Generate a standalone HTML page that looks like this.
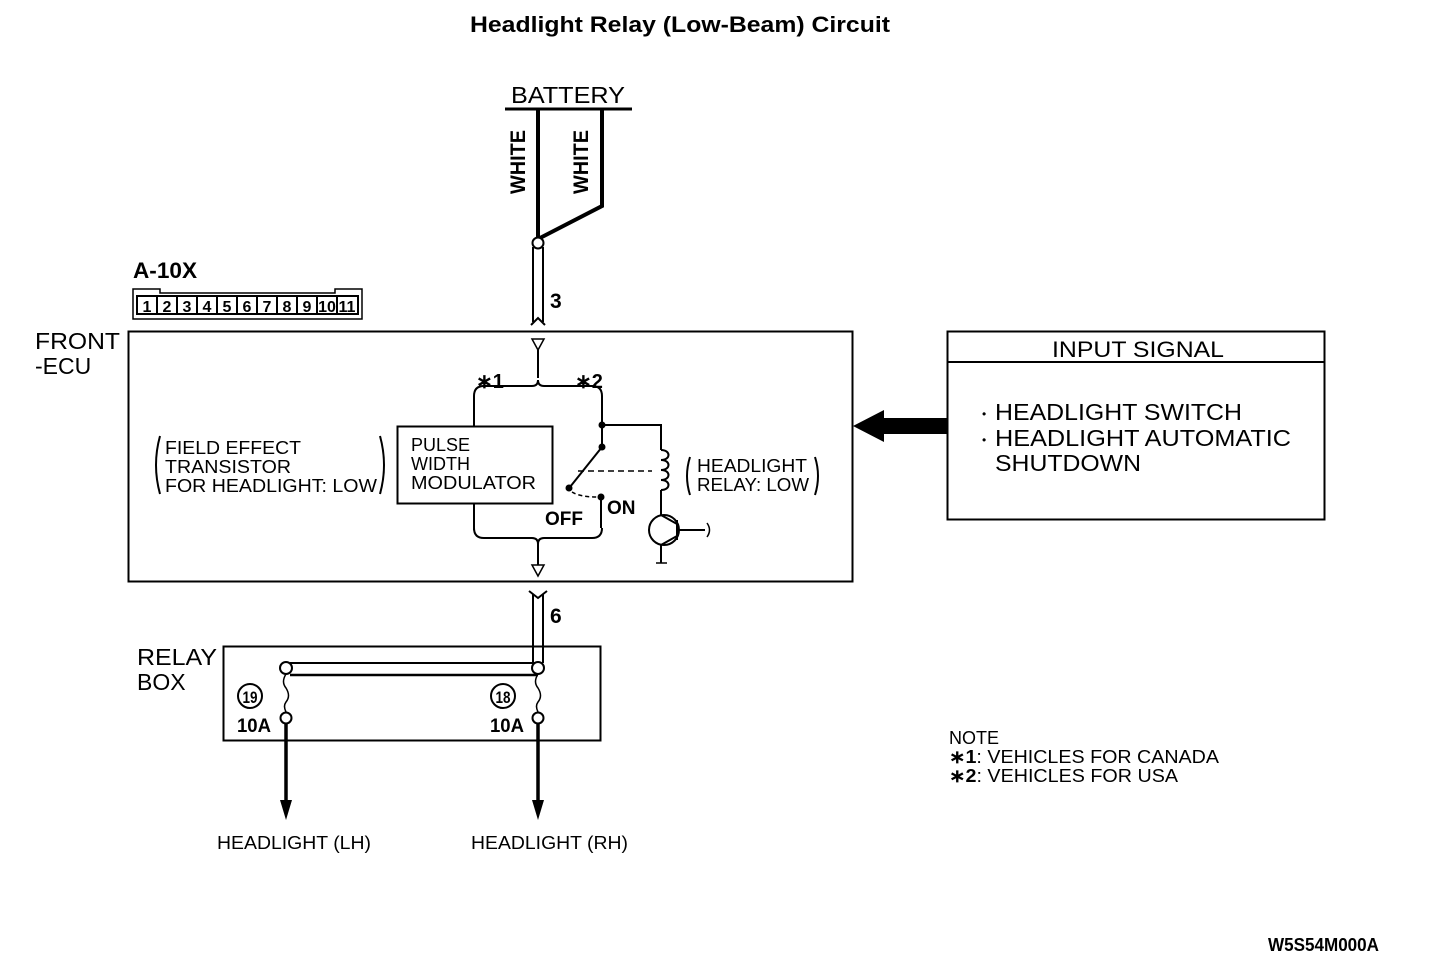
<!DOCTYPE html>
<html><head><meta charset="utf-8"><style>
html,body{margin:0;padding:0;background:#fff;}
svg{display:block;}
text{font-family:"Liberation Sans",sans-serif;fill:#000;}
.n{font-family:"Liberation Sans Narrow","Liberation Sans",sans-serif;font-weight:bold;}
</style></head><body>
<svg width="1440" height="980" viewBox="0 0 1440 980" xmlns="http://www.w3.org/2000/svg">
<text x="470" y="32" font-size="22" font-weight="bold" textLength="420" lengthAdjust="spacingAndGlyphs">Headlight Relay (Low-Beam) Circuit</text>

<!-- Battery -->
<text x="511" y="103" font-size="23" textLength="114" lengthAdjust="spacingAndGlyphs">BATTERY</text>
<line x1="505" y1="109" x2="632" y2="109" stroke="#000" stroke-width="3"/>
<polyline points="538,109 538,240" fill="none" stroke="#000" stroke-width="4"/>
<polyline points="602,109 602,206 540,238" fill="none" stroke="#000" stroke-width="4"/>
<text transform="translate(525,162) rotate(-90)" font-size="21" text-anchor="middle" class="n" textLength="64" lengthAdjust="spacingAndGlyphs">WHITE</text>
<text transform="translate(588,162) rotate(-90)" font-size="21" text-anchor="middle" class="n" textLength="64" lengthAdjust="spacingAndGlyphs">WHITE</text>
<circle cx="538" cy="243" r="5.5" fill="#fff" stroke="#000" stroke-width="2"/>
<line x1="533" y1="247" x2="533" y2="322" stroke="#000" stroke-width="2"/>
<line x1="543" y1="247" x2="543" y2="322" stroke="#000" stroke-width="2"/>
<polyline points="531,325 538,318 545,325" fill="none" stroke="#000" stroke-width="2"/>
<text x="550" y="308" font-size="21" class="n">3</text>

<!-- A-10X -->
<text x="133" y="278" font-size="22" class="n" textLength="64" lengthAdjust="spacingAndGlyphs">A-10X</text>
<path d="M133,289 H160 V293 H335 V289 H362 V319 H133 Z" fill="none" stroke="#000" stroke-width="1.5"/>
<rect x="137" y="296" width="221" height="18" fill="none" stroke="#000" stroke-width="2"/>
<g stroke="#000" stroke-width="2">
<line x1="157" y1="296" x2="157" y2="314"/><line x1="177" y1="296" x2="177" y2="314"/><line x1="197" y1="296" x2="197" y2="314"/><line x1="217" y1="296" x2="217" y2="314"/><line x1="237" y1="296" x2="237" y2="314"/><line x1="257" y1="296" x2="257" y2="314"/><line x1="277" y1="296" x2="277" y2="314"/><line x1="297" y1="296" x2="297" y2="314"/><line x1="317" y1="296" x2="317" y2="314"/><line x1="337" y1="296" x2="337" y2="314"/>
</g>
<g font-size="16" class="n" text-anchor="middle">
<text x="147" y="312">1</text><text x="167" y="312">2</text><text x="187" y="312">3</text><text x="207" y="312">4</text><text x="227" y="312">5</text><text x="247" y="312">6</text><text x="267" y="312">7</text><text x="287" y="312">8</text><text x="307" y="312">9</text><text x="327" y="312">10</text><text x="347" y="312">11</text>
</g>

<!-- ECU -->
<text x="35" y="349" font-size="23" textLength="85" lengthAdjust="spacingAndGlyphs">FRONT</text>
<text x="35" y="374" font-size="23">-ECU</text>
<rect x="128.5" y="331.5" width="724" height="250" fill="none" stroke="#000" stroke-width="2"/>
<polygon points="532,339 544,339 538,350" fill="none" stroke="#000" stroke-width="1.5"/>
<line x1="538" y1="350" x2="538" y2="378" stroke="#000" stroke-width="2"/>
<path d="M474,396 Q474,386 484,386 H532 Q538,386 538,380 Q538,386 544,386 H592 Q602,386 602,396" fill="none" stroke="#000" stroke-width="2"/>
<text x="476" y="388" font-size="20" font-weight="bold">∗1</text>
<text x="575" y="388" font-size="20" font-weight="bold">∗2</text>
<line x1="474" y1="396" x2="474" y2="426" stroke="#000" stroke-width="2"/>
<line x1="474" y1="503" x2="474" y2="530" stroke="#000" stroke-width="2"/>
<rect x="397.5" y="426.5" width="155" height="77" fill="none" stroke="#000" stroke-width="2"/>
<text x="411" y="451" font-size="18">PULSE</text>
<text x="411" y="470" font-size="18">WIDTH</text>
<text x="411" y="489" font-size="18" textLength="125" lengthAdjust="spacingAndGlyphs">MODULATOR</text>
<path d="M474,528 Q474,538 484,538 H532 Q538,538 538,544 Q538,538 544,538 H592 Q602,538 602,528" fill="none" stroke="#000" stroke-width="2"/>
<line x1="538" y1="544" x2="538" y2="565" stroke="#000" stroke-width="2"/>
<polygon points="532,565 544,565 538,576" fill="none" stroke="#000" stroke-width="1.5"/>
<!-- switch -->
<line x1="602" y1="396" x2="602" y2="447" stroke="#000" stroke-width="2"/>
<circle cx="602" cy="425" r="3.5"/><circle cx="602" cy="447" r="3.5"/>
<line x1="602" y1="447" x2="570" y2="487" stroke="#000" stroke-width="2"/>
<circle cx="569" cy="488" r="3.5"/>
<path d="M572,492 Q580,497 597,497" fill="none" stroke="#000" stroke-width="1.5" stroke-dasharray="4,3"/>
<circle cx="601" cy="497" r="3.5"/>
<line x1="601" y1="497" x2="601" y2="528" stroke="#000" stroke-width="2"/>
<text x="607" y="514" font-size="19" class="n">ON</text>
<text x="545" y="525" font-size="19" class="n">OFF</text>
<line x1="578" y1="471" x2="652" y2="471" stroke="#000" stroke-width="1.5" stroke-dasharray="6,4"/>
<polyline points="602,425 661,425 661,450" fill="none" stroke="#000" stroke-width="2"/>
<path d="M661,450 c10,0 10,10 0,10 c10,0 10,10 0,10 c10,0 10,10 0,10 c10,0 10,10 0,10" fill="none" stroke="#000" stroke-width="2"/>
<line x1="661" y1="490" x2="661" y2="515" stroke="#000" stroke-width="2"/>
<circle cx="664" cy="530" r="15" fill="none" stroke="#000" stroke-width="2"/>
<line x1="677" y1="520" x2="677" y2="540" stroke="#000" stroke-width="2"/>
<line x1="677" y1="530" x2="705" y2="530" stroke="#000" stroke-width="2"/>
<line x1="661" y1="515" x2="677" y2="524" stroke="#000" stroke-width="2"/>
<line x1="677" y1="536" x2="661" y2="545" stroke="#000" stroke-width="2"/>
<line x1="661" y1="545" x2="661" y2="563" stroke="#000" stroke-width="2"/>
<path d="M707,523 Q712,530 707,537" fill="none" stroke="#000" stroke-width="1.5"/>
<line x1="656" y1="563" x2="667" y2="563" stroke="#000" stroke-width="1.5"/>
<text x="697" y="472" font-size="18" textLength="110" lengthAdjust="spacingAndGlyphs">HEADLIGHT</text>
<text x="697" y="491" font-size="18" textLength="112" lengthAdjust="spacingAndGlyphs">RELAY: LOW</text>
<path d="M690,457 Q684,476 690,495" fill="none" stroke="#000" stroke-width="2"/>
<path d="M815,457 Q821,476 815,495" fill="none" stroke="#000" stroke-width="2"/>
<text x="165" y="454" font-size="18" textLength="136" lengthAdjust="spacingAndGlyphs">FIELD EFFECT</text>
<text x="165" y="473" font-size="18" textLength="126" lengthAdjust="spacingAndGlyphs">TRANSISTOR</text>
<text x="165" y="492" font-size="18" textLength="212" lengthAdjust="spacingAndGlyphs">FOR HEADLIGHT: LOW</text>
<path d="M160,436 Q152,465 160,494" fill="none" stroke="#000" stroke-width="2"/>
<path d="M380,436 Q388,465 380,494" fill="none" stroke="#000" stroke-width="2"/>

<!-- input signal -->
<rect x="947.5" y="331.5" width="377" height="188" fill="none" stroke="#000" stroke-width="2"/>
<line x1="947" y1="362" x2="1325" y2="362" stroke="#000" stroke-width="2"/>
<text x="1052" y="357" font-size="22" textLength="172" lengthAdjust="spacingAndGlyphs">INPUT SIGNAL</text>
<text x="982" y="418" font-size="12">•</text>
<text x="982" y="444" font-size="12">•</text>
<text x="995" y="420" font-size="23" textLength="247" lengthAdjust="spacingAndGlyphs">HEADLIGHT SWITCH</text>
<text x="995" y="446" font-size="23" textLength="296" lengthAdjust="spacingAndGlyphs">HEADLIGHT AUTOMATIC</text>
<text x="995" y="471" font-size="23" textLength="146" lengthAdjust="spacingAndGlyphs">SHUTDOWN</text>
<polygon points="853,426 884,410 884,418 947,418 947,434 884,434 884,442" fill="#000"/>

<!-- connector 6 -->
<line x1="533" y1="594" x2="533" y2="663" stroke="#000" stroke-width="2"/>
<line x1="543" y1="594" x2="543" y2="663" stroke="#000" stroke-width="2"/>
<polyline points="529,591 538,598 547,591" fill="none" stroke="#000" stroke-width="2"/>
<text x="550" y="623" font-size="21" class="n">6</text>

<!-- relay box -->
<text x="137" y="665" font-size="23" textLength="80" lengthAdjust="spacingAndGlyphs">RELAY</text>
<text x="137" y="690" font-size="23">BOX</text>
<rect x="223.5" y="646.5" width="377" height="94" fill="none" stroke="#000" stroke-width="2"/>
<line x1="290" y1="663" x2="538" y2="663" stroke="#000" stroke-width="2"/>
<line x1="290" y1="675" x2="538" y2="675" stroke="#000" stroke-width="2.5"/>
<circle cx="286" cy="668" r="6" fill="#fff" stroke="#000" stroke-width="2"/>
<circle cx="538" cy="668" r="6" fill="#fff" stroke="#000" stroke-width="2"/>
<path d="M286,674 q-5,8 0,14 q5,8 0,14 q-3,4 0,10" fill="none" stroke="#000" stroke-width="1.5"/>
<path d="M538,674 q-5,8 0,14 q5,8 0,14 q-3,4 0,10" fill="none" stroke="#000" stroke-width="1.5"/>
<circle cx="286" cy="718" r="5.5" fill="#fff" stroke="#000" stroke-width="2"/>
<circle cx="538" cy="718" r="5.5" fill="#fff" stroke="#000" stroke-width="2"/>
<circle cx="250" cy="696" r="12" fill="none" stroke="#000" stroke-width="2"/>
<circle cx="503" cy="696" r="12" fill="none" stroke="#000" stroke-width="2"/>
<text x="250" y="703" font-size="17" class="n" text-anchor="middle" textLength="15" lengthAdjust="spacingAndGlyphs">19</text>
<text x="503" y="703" font-size="17" class="n" text-anchor="middle" textLength="15" lengthAdjust="spacingAndGlyphs">18</text>
<text x="237" y="732" font-size="19" class="n" textLength="34" lengthAdjust="spacingAndGlyphs">10A</text>
<text x="490" y="732" font-size="19" class="n" textLength="34" lengthAdjust="spacingAndGlyphs">10A</text>
<line x1="286" y1="724" x2="286" y2="805" stroke="#000" stroke-width="3.5"/>
<line x1="538" y1="724" x2="538" y2="805" stroke="#000" stroke-width="3.5"/>
<polygon points="280,800 292,800 286,820" fill="#000"/>
<polygon points="532,800 544,800 538,820" fill="#000"/>
<text x="217" y="849" font-size="18" textLength="154" lengthAdjust="spacingAndGlyphs">HEADLIGHT (LH)</text>
<text x="471" y="849" font-size="18" textLength="157" lengthAdjust="spacingAndGlyphs">HEADLIGHT (RH)</text>

<text x="949" y="744" font-size="18">NOTE</text>
<text x="949" y="763" font-size="18" textLength="270" lengthAdjust="spacingAndGlyphs"><tspan font-weight="bold">∗1</tspan>: VEHICLES FOR CANADA</text>
<text x="949" y="782" font-size="18" textLength="229" lengthAdjust="spacingAndGlyphs"><tspan font-weight="bold">∗2</tspan>: VEHICLES FOR USA</text>
<text x="1268" y="951" font-size="18" class="n" textLength="111" lengthAdjust="spacingAndGlyphs">W5S54M000A</text>
</svg>
</body></html>
